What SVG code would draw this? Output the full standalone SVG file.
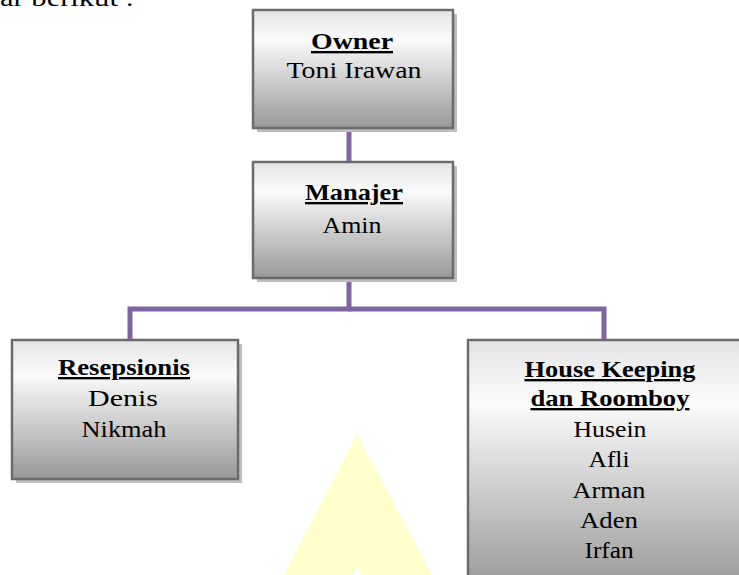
<svg xmlns="http://www.w3.org/2000/svg" width="739" height="575" viewBox="0 0 739 575">
<defs>
<linearGradient id="g" x1="0" y1="0" x2="0" y2="1">
<stop offset="0" stop-color="#e4e4e4"/>
<stop offset="0.25" stop-color="#fbfbfb"/>
<stop offset="1" stop-color="#989898"/>
</linearGradient>
<style>
.box{fill:url(#g);stroke:#6b6b6b;stroke-width:2.5}
.sh{fill:#bdbdbd}
.t{font-family:"Liberation Serif","Times New Roman",serif;font-size:23.5px;fill:#000;text-anchor:middle}
.b{font-weight:bold;text-decoration:underline}
.c{fill:none;stroke:#8064a2;stroke-width:5}
</style>
</defs>
<polygon points="357,434 432,575 284,575" fill="#ffffcc"/>
<polygon points="357,567 362,575 352,575" fill="#ffffff"/>
<text x="134" y="6" class="t" style="text-anchor:end" textLength="134" lengthAdjust="spacingAndGlyphs">ar berikut :</text>
<g id="connectors">
<line x1="349" y1="128" x2="349" y2="163" class="c"/>
<polyline points="349,278 349,309 130,309 130,341" class="c"/>
<polyline points="349,309 604,309 604,341" class="c"/>
</g>
<g id="owner">
<rect x="257" y="14" width="200" height="118" class="sh"/>
<rect x="253" y="10" width="200" height="118" class="box"/>
<text x="352" y="49" class="t b" textLength="82" lengthAdjust="spacingAndGlyphs">Owner</text>
<text x="354" y="78" class="t" textLength="135" lengthAdjust="spacingAndGlyphs">Toni  Irawan</text>
</g>
<g id="manajer">
<rect x="257" y="166" width="200" height="116" class="sh"/>
<rect x="253" y="162" width="200" height="116" class="box"/>
<text x="354" y="200" class="t b" textLength="98" lengthAdjust="spacingAndGlyphs">Manajer</text>
<text x="352" y="233" class="t" textLength="59" lengthAdjust="spacingAndGlyphs">Amin</text>
</g>
<g id="resepsionis">
<rect x="16" y="344" width="226" height="139" class="sh"/>
<rect x="12" y="340" width="226" height="139" class="box"/>
<text x="124" y="375" class="t b" textLength="132" lengthAdjust="spacingAndGlyphs">Resepsionis</text>
<text x="123" y="406" class="t" textLength="70" lengthAdjust="spacingAndGlyphs">Denis</text>
<text x="124" y="437" class="t" textLength="85" lengthAdjust="spacingAndGlyphs">Nikmah</text>
</g>
<g id="housekeeping">
<rect x="472" y="344" width="290" height="250" class="sh"/>
<rect x="468" y="340" width="290" height="250" class="box"/>
<text x="610" y="377" class="t b" textLength="171" lengthAdjust="spacingAndGlyphs">House Keeping</text>
<text x="610" y="406" class="t b" textLength="159" lengthAdjust="spacingAndGlyphs">dan Roomboy</text>
<text x="610" y="437" class="t" textLength="73" lengthAdjust="spacingAndGlyphs">Husein</text>
<text x="609" y="467" class="t" textLength="41" lengthAdjust="spacingAndGlyphs">Afli</text>
<text x="609" y="498" class="t" textLength="73" lengthAdjust="spacingAndGlyphs">Arman</text>
<text x="609" y="528" class="t" textLength="58" lengthAdjust="spacingAndGlyphs">Aden</text>
<text x="609" y="558" class="t" textLength="49" lengthAdjust="spacingAndGlyphs">Irfan</text>
</g>
</svg>
